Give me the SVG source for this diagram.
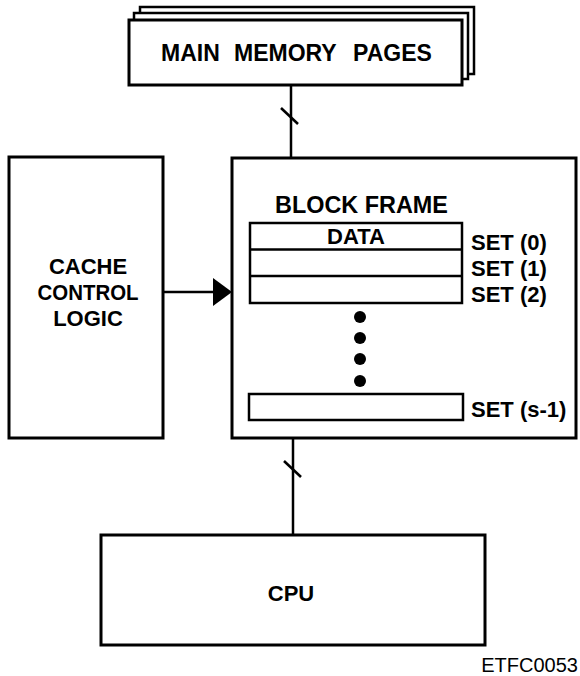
<svg xmlns="http://www.w3.org/2000/svg" width="580" height="676" viewBox="0 0 580 676">
<style>
.box{fill:#fff;stroke:#000;stroke-width:3}
.row{fill:#fff;stroke:#000;stroke-width:2.5}
.ln{stroke:#000;stroke-width:2.5;fill:none}
text{font-family:"Liberation Sans",Arial,sans-serif;font-weight:bold;fill:#000}
.c{text-anchor:middle}
</style>
<rect width="580" height="676" fill="#fff"/>
<g id="main-memory">
<rect class="row" x="140" y="7" width="334" height="67"/>
<rect class="row" x="134" y="13" width="334" height="66"/>
<rect class="box" x="129" y="20" width="333" height="65"/>
<text y="61" font-size="23"><tspan x="161">MAIN</tspan><tspan x="234">MEMORY</tspan><tspan x="353">PAGES</tspan></text>
</g>
<g id="cache-control">
<rect class="box" x="9" y="157" width="154" height="281"/>
<text class="c" x="88" y="274" font-size="22">CACHE</text>
<text class="c" x="88" y="300" font-size="22" textLength="101" lengthAdjust="spacingAndGlyphs">CONTROL</text>
<text class="c" x="88" y="326" font-size="22">LOGIC</text>
</g>
<g id="cache">
<rect class="box" x="232" y="158" width="344" height="280"/>
<text x="275" y="213" font-size="23" textLength="173" lengthAdjust="spacingAndGlyphs">BLOCK FRAME</text>
<rect class="row" x="250" y="223" width="212" height="80"/>
<line class="ln" x1="250" y1="249.5" x2="462" y2="249.5"/>
<line class="ln" x1="250" y1="276" x2="462" y2="276"/>
<text class="c" x="356" y="244" font-size="22">DATA</text>
<text x="471" y="250" font-size="22">SET (0)</text>
<text x="471" y="276" font-size="22">SET (1)</text>
<text x="471" y="302" font-size="22">SET (2)</text>
<circle cx="360" cy="317" r="6"/>
<circle cx="360" cy="338" r="6"/>
<circle cx="360" cy="359" r="6"/>
<circle cx="360" cy="381" r="6"/>
<rect class="row" x="249" y="394" width="214" height="26"/>
<text x="471" y="417" font-size="22">SET (s-1)</text>
</g>
<g id="cpu">
<rect class="box" x="101" y="535" width="384" height="110"/>
<text class="c" x="291" y="601" font-size="22">CPU</text>
</g>
<g id="connectors">
<line class="ln" x1="291" y1="85" x2="291" y2="158"/>
<line class="ln" x1="281" y1="108" x2="298" y2="124"/>
<line class="ln" x1="293" y1="438" x2="293" y2="535"/>
<line class="ln" x1="284" y1="461" x2="301" y2="477"/>
<line class="ln" x1="163" y1="292" x2="216" y2="292"/>
<polygon points="213,278 232,292 213,306" fill="#000"/>
</g>
<text x="578" y="672" font-size="20" style="font-weight:normal;text-anchor:end">ETFC0053</text>
</svg>
